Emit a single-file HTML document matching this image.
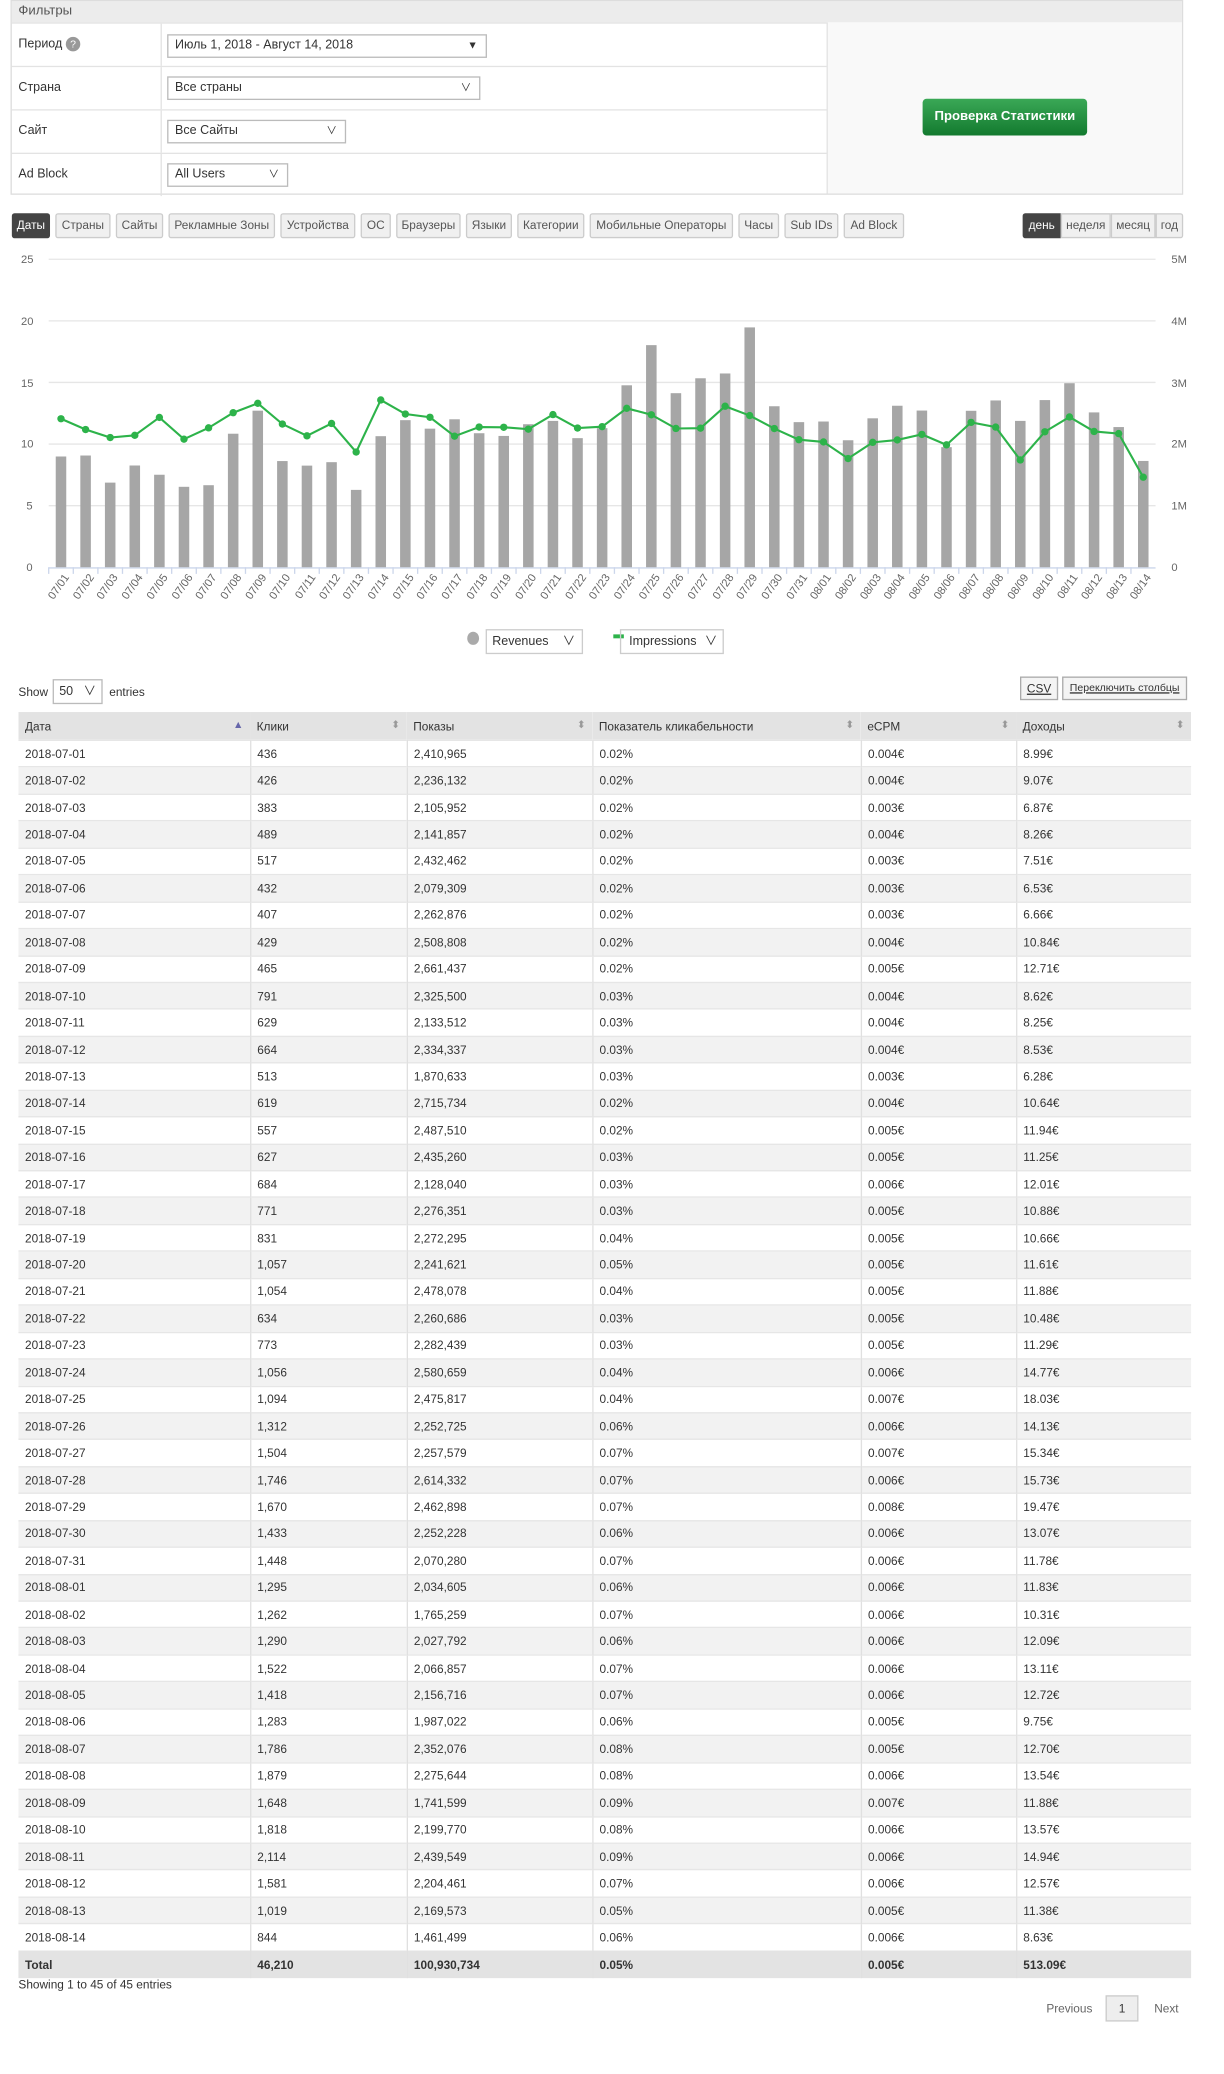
<!DOCTYPE html>
<html><head><meta charset="utf-8">
<style>
html,body{margin:0;padding:0;background:#fff;}
body{width:1224px;height:2074px;overflow:hidden;font-family:"Liberation Sans","Noto Sans CJK SC",sans-serif;color:#333;}
#w{position:relative;width:930px;height:1576px;transform:scale(1.31613);transform-origin:0 0;font-size:10px;}
.abs{position:absolute;}
#filters{left:8px;top:0;width:891px;height:148px;border:1px solid #ddd;box-sizing:border-box;background:#fff;}
#filters .hd{position:absolute;left:0;top:0;right:0;height:16px;background:#ececec;color:#555;font-size:10px;line-height:16px;padding-left:5px;}
.row{position:absolute;left:0;width:619px;height:33px;border-top:1px solid #e3e3e3;box-sizing:border-box;}
.row .lb{position:absolute;left:5px;top:0;line-height:31px;font-size:9.5px;}
.row .sep{position:absolute;left:113px;top:0;bottom:0;border-left:1px solid #e3e3e3;}
.sel{position:absolute;border:1px solid #bbb;background:#fff;height:18px;box-sizing:border-box;font-size:9.5px;line-height:16px;padding-left:5px;}
.sel i{position:absolute;right:6px;top:0;font-style:normal;font-size:8px;}
#rc{position:absolute;left:619px;top:16px;right:0;bottom:0;border-left:1px solid #e3e3e3;background:#f9f9f9;}
#btn{position:absolute;left:72px;top:58px;width:125px;height:28px;background:linear-gradient(#3aa856,#137a2f);border-radius:3px;color:#fff;font-weight:bold;font-size:10px;text-align:center;line-height:28px;}
.tab{position:absolute;top:162px;height:19px;border:1px solid #ccc;border-radius:2px;background:#f0f0f0;color:#555;font-size:9px;line-height:17px;text-align:center;box-sizing:border-box;}
.tab.on{background:#444;color:#fff;border-color:#444;}
.yl{position:absolute;font-size:8.5px;color:#666;}
#xl{position:absolute;left:37px;top:434px;width:841px;height:40px;display:flex;}
#xl div{flex:1;position:relative;}
#xl span{position:absolute;right:50%;top:0;transform-origin:100% 0;transform:rotate(-55deg);font-size:8.5px;color:#666;white-space:nowrap;}
table{position:absolute;left:14px;top:541px;width:891px;border-collapse:collapse;font-size:9px;}
th{background:#e3e3e3;text-align:left;font-weight:normal;height:21px;padding:0 5px;position:relative;}
th b{position:absolute;right:5px;top:5px;font-weight:normal;font-size:8px;color:#999;}
td{height:20.45px;padding:0 5px;border-left:1px solid #e0e0e0;box-sizing:border-box;}
td:first-child{border-left:none;}
tbody tr:nth-child(even){background:#f2f2f2;}
tbody tr{border-top:1px solid #e6e6e6;}
tfoot td{background:#e3e3e3;font-weight:bold;height:21px;}
</style></head><body><div id="w">

<div id="filters" class="abs">
 <div class="hd">Фильтры</div>
 <div class="row" style="top:16px"><div class="lb">Период <span style="display:inline-block;width:11px;height:11px;border-radius:50%;background:#999;color:#fff;font-size:8px;line-height:11px;text-align:center;">?</span></div><div class="sep"></div><div class="sel" style="left:118px;top:8px;width:243px;">Июль 1, 2018 - Август 14, 2018<i>▼</i></div></div>
 <div class="row" style="top:49px"><div class="lb">Страна</div><div class="sep"></div><div class="sel" style="left:118px;top:7px;width:238px;">Все страны<i>∨</i></div></div>
 <div class="row" style="top:82px"><div class="lb">Сайт</div><div class="sep"></div><div class="sel" style="left:118px;top:7px;width:136px;">Все Сайты<i>∨</i></div></div>
 <div class="row" style="top:115px"><div class="lb">Ad Block</div><div class="sep"></div><div class="sel" style="left:118px;top:7px;width:92px;">All Users<i>∨</i></div></div>
 <div id="rc"><div id="btn">Проверка Статистики</div></div>
</div>

<div class="tab on" style="left:9px;width:29px">Даты</div>
<div class="tab" style="left:42px;width:42px">Страны</div>
<div class="tab" style="left:88px;width:36px">Сайты</div>
<div class="tab" style="left:128px;width:81px">Рекламные Зоны</div>
<div class="tab" style="left:213px;width:57px">Устройства</div>
<div class="tab" style="left:274px;width:23px">ОС</div>
<div class="tab" style="left:301px;width:49px">Браузеры</div>
<div class="tab" style="left:354px;width:35px">Языки</div>
<div class="tab" style="left:393px;width:51px">Категории</div>
<div class="tab" style="left:448px;width:109px">Мобильные Операторы</div>
<div class="tab" style="left:561px;width:31px">Часы</div>
<div class="tab" style="left:596px;width:41px">Sub IDs</div>
<div class="tab" style="left:641px;width:46px">Ad Block</div>
<div class="tab on" style="left:777px;width:29px;border-radius:2px 0 0 2px">день</div>
<div class="tab" style="left:806px;width:38px;border-radius:0">неделя</div>
<div class="tab" style="left:844px;width:34px;border-radius:0">месяц</div>
<div class="tab" style="left:878px;width:21px;border-radius:0 2px 2px 0">год</div>

<div class="yl" style="left:16px;top:192px">25</div>
<div class="yl" style="left:16px;top:239px">20</div>
<div class="yl" style="left:16px;top:286px">15</div>
<div class="yl" style="left:16px;top:332px">10</div>
<div class="yl" style="left:20px;top:379px">5</div>
<div class="yl" style="left:20px;top:426px">0</div>
<div class="yl" style="left:890px;top:192px">5M</div>
<div class="yl" style="left:890px;top:239px">4M</div>
<div class="yl" style="left:890px;top:286px">3M</div>
<div class="yl" style="left:890px;top:332px">2M</div>
<div class="yl" style="left:890px;top:379px">1M</div>
<div class="yl" style="left:890px;top:426px">0</div>

<svg id="ch" class="abs" style="left:0;top:0" width="930" height="480"></svg>

<div id="xl">
<div><span>07/01</span></div><div><span>07/02</span></div><div><span>07/03</span></div><div><span>07/04</span></div><div><span>07/05</span></div><div><span>07/06</span></div><div><span>07/07</span></div><div><span>07/08</span></div><div><span>07/09</span></div><div><span>07/10</span></div><div><span>07/11</span></div><div><span>07/12</span></div><div><span>07/13</span></div><div><span>07/14</span></div><div><span>07/15</span></div><div><span>07/16</span></div><div><span>07/17</span></div><div><span>07/18</span></div><div><span>07/19</span></div><div><span>07/20</span></div><div><span>07/21</span></div><div><span>07/22</span></div><div><span>07/23</span></div><div><span>07/24</span></div><div><span>07/25</span></div><div><span>07/26</span></div><div><span>07/27</span></div><div><span>07/28</span></div><div><span>07/29</span></div><div><span>07/30</span></div><div><span>07/31</span></div><div><span>08/01</span></div><div><span>08/02</span></div><div><span>08/03</span></div><div><span>08/04</span></div><div><span>08/05</span></div><div><span>08/06</span></div><div><span>08/07</span></div><div><span>08/08</span></div><div><span>08/09</span></div><div><span>08/10</span></div><div><span>08/11</span></div><div><span>08/12</span></div><div><span>08/13</span></div><div><span>08/14</span></div>
</div>

<div class="abs" style="left:355px;top:480px;width:9px;height:10px;border-radius:50%;background:#aaa"></div>
<div class="abs" style="left:369px;top:478px;width:74px;height:19px;border:1px solid #ccc;box-sizing:border-box;font-size:9.5px;line-height:17px;padding-left:4px">Revenues<span style="position:absolute;right:5px">∨</span></div>
<div class="abs" style="left:466px;top:482px;width:8px;height:3px;background:#2db34a"></div>
<div class="abs" style="left:471px;top:478px;width:79px;height:19px;border:1px solid #ccc;box-sizing:border-box;font-size:9.5px;line-height:17px;padding-left:6px">Impressions<span style="position:absolute;right:4px">∨</span></div>

<div class="abs" style="left:14px;top:521px;font-size:9px">Show</div>
<div class="abs" style="left:40px;top:516px;width:38px;height:19px;border:1px solid #bbb;box-sizing:border-box;font-size:9.5px;line-height:17px;padding-left:4px">50<span style="position:absolute;right:4px">∨</span></div>
<div class="abs" style="left:83px;top:521px;font-size:9px">entries</div>
<div class="abs" style="left:775px;top:514px;width:29px;height:18px;border:1px solid #aaa;background:#f4f4f4;box-sizing:border-box;font-size:9px;line-height:16px;text-align:center;text-decoration:underline">CSV</div>
<div class="abs" style="left:807px;top:514px;width:95px;height:18px;border:1px solid #aaa;background:#f4f4f4;box-sizing:border-box;font-size:8px;line-height:16px;text-align:center;text-decoration:underline">Переключить столбцы</div>

<table>
<colgroup><col style="width:176px"><col style="width:119px"><col style="width:141px"><col style="width:204px"><col style="width:118px"><col style="width:133px"></colgroup>
<thead><tr><th>Дата<b style="color:#66a">▲</b></th><th>Клики<b>⬍</b></th><th>Показы<b>⬍</b></th><th>Показатель кликабельности<b>⬍</b></th><th>eCPM<b>⬍</b></th><th>Доходы<b>⬍</b></th></tr></thead>
<tbody>
<tr><td>2018-07-01</td><td>436</td><td>2,410,965</td><td>0.02%</td><td>0.004€</td><td>8.99€</td></tr>
<tr><td>2018-07-02</td><td>426</td><td>2,236,132</td><td>0.02%</td><td>0.004€</td><td>9.07€</td></tr>
<tr><td>2018-07-03</td><td>383</td><td>2,105,952</td><td>0.02%</td><td>0.003€</td><td>6.87€</td></tr>
<tr><td>2018-07-04</td><td>489</td><td>2,141,857</td><td>0.02%</td><td>0.004€</td><td>8.26€</td></tr>
<tr><td>2018-07-05</td><td>517</td><td>2,432,462</td><td>0.02%</td><td>0.003€</td><td>7.51€</td></tr>
<tr><td>2018-07-06</td><td>432</td><td>2,079,309</td><td>0.02%</td><td>0.003€</td><td>6.53€</td></tr>
<tr><td>2018-07-07</td><td>407</td><td>2,262,876</td><td>0.02%</td><td>0.003€</td><td>6.66€</td></tr>
<tr><td>2018-07-08</td><td>429</td><td>2,508,808</td><td>0.02%</td><td>0.004€</td><td>10.84€</td></tr>
<tr><td>2018-07-09</td><td>465</td><td>2,661,437</td><td>0.02%</td><td>0.005€</td><td>12.71€</td></tr>
<tr><td>2018-07-10</td><td>791</td><td>2,325,500</td><td>0.03%</td><td>0.004€</td><td>8.62€</td></tr>
<tr><td>2018-07-11</td><td>629</td><td>2,133,512</td><td>0.03%</td><td>0.004€</td><td>8.25€</td></tr>
<tr><td>2018-07-12</td><td>664</td><td>2,334,337</td><td>0.03%</td><td>0.004€</td><td>8.53€</td></tr>
<tr><td>2018-07-13</td><td>513</td><td>1,870,633</td><td>0.03%</td><td>0.003€</td><td>6.28€</td></tr>
<tr><td>2018-07-14</td><td>619</td><td>2,715,734</td><td>0.02%</td><td>0.004€</td><td>10.64€</td></tr>
<tr><td>2018-07-15</td><td>557</td><td>2,487,510</td><td>0.02%</td><td>0.005€</td><td>11.94€</td></tr>
<tr><td>2018-07-16</td><td>627</td><td>2,435,260</td><td>0.03%</td><td>0.005€</td><td>11.25€</td></tr>
<tr><td>2018-07-17</td><td>684</td><td>2,128,040</td><td>0.03%</td><td>0.006€</td><td>12.01€</td></tr>
<tr><td>2018-07-18</td><td>771</td><td>2,276,351</td><td>0.03%</td><td>0.005€</td><td>10.88€</td></tr>
<tr><td>2018-07-19</td><td>831</td><td>2,272,295</td><td>0.04%</td><td>0.005€</td><td>10.66€</td></tr>
<tr><td>2018-07-20</td><td>1,057</td><td>2,241,621</td><td>0.05%</td><td>0.005€</td><td>11.61€</td></tr>
<tr><td>2018-07-21</td><td>1,054</td><td>2,478,078</td><td>0.04%</td><td>0.005€</td><td>11.88€</td></tr>
<tr><td>2018-07-22</td><td>634</td><td>2,260,686</td><td>0.03%</td><td>0.005€</td><td>10.48€</td></tr>
<tr><td>2018-07-23</td><td>773</td><td>2,282,439</td><td>0.03%</td><td>0.005€</td><td>11.29€</td></tr>
<tr><td>2018-07-24</td><td>1,056</td><td>2,580,659</td><td>0.04%</td><td>0.006€</td><td>14.77€</td></tr>
<tr><td>2018-07-25</td><td>1,094</td><td>2,475,817</td><td>0.04%</td><td>0.007€</td><td>18.03€</td></tr>
<tr><td>2018-07-26</td><td>1,312</td><td>2,252,725</td><td>0.06%</td><td>0.006€</td><td>14.13€</td></tr>
<tr><td>2018-07-27</td><td>1,504</td><td>2,257,579</td><td>0.07%</td><td>0.007€</td><td>15.34€</td></tr>
<tr><td>2018-07-28</td><td>1,746</td><td>2,614,332</td><td>0.07%</td><td>0.006€</td><td>15.73€</td></tr>
<tr><td>2018-07-29</td><td>1,670</td><td>2,462,898</td><td>0.07%</td><td>0.008€</td><td>19.47€</td></tr>
<tr><td>2018-07-30</td><td>1,433</td><td>2,252,228</td><td>0.06%</td><td>0.006€</td><td>13.07€</td></tr>
<tr><td>2018-07-31</td><td>1,448</td><td>2,070,280</td><td>0.07%</td><td>0.006€</td><td>11.78€</td></tr>
<tr><td>2018-08-01</td><td>1,295</td><td>2,034,605</td><td>0.06%</td><td>0.006€</td><td>11.83€</td></tr>
<tr><td>2018-08-02</td><td>1,262</td><td>1,765,259</td><td>0.07%</td><td>0.006€</td><td>10.31€</td></tr>
<tr><td>2018-08-03</td><td>1,290</td><td>2,027,792</td><td>0.06%</td><td>0.006€</td><td>12.09€</td></tr>
<tr><td>2018-08-04</td><td>1,522</td><td>2,066,857</td><td>0.07%</td><td>0.006€</td><td>13.11€</td></tr>
<tr><td>2018-08-05</td><td>1,418</td><td>2,156,716</td><td>0.07%</td><td>0.006€</td><td>12.72€</td></tr>
<tr><td>2018-08-06</td><td>1,283</td><td>1,987,022</td><td>0.06%</td><td>0.005€</td><td>9.75€</td></tr>
<tr><td>2018-08-07</td><td>1,786</td><td>2,352,076</td><td>0.08%</td><td>0.005€</td><td>12.70€</td></tr>
<tr><td>2018-08-08</td><td>1,879</td><td>2,275,644</td><td>0.08%</td><td>0.006€</td><td>13.54€</td></tr>
<tr><td>2018-08-09</td><td>1,648</td><td>1,741,599</td><td>0.09%</td><td>0.007€</td><td>11.88€</td></tr>
<tr><td>2018-08-10</td><td>1,818</td><td>2,199,770</td><td>0.08%</td><td>0.006€</td><td>13.57€</td></tr>
<tr><td>2018-08-11</td><td>2,114</td><td>2,439,549</td><td>0.09%</td><td>0.006€</td><td>14.94€</td></tr>
<tr><td>2018-08-12</td><td>1,581</td><td>2,204,461</td><td>0.07%</td><td>0.006€</td><td>12.57€</td></tr>
<tr><td>2018-08-13</td><td>1,019</td><td>2,169,573</td><td>0.05%</td><td>0.005€</td><td>11.38€</td></tr>
<tr><td>2018-08-14</td><td>844</td><td>1,461,499</td><td>0.06%</td><td>0.006€</td><td>8.63€</td></tr>
</tbody>
<tfoot><tr><td>Total</td><td>46,210</td><td>100,930,734</td><td>0.05%</td><td>0.005€</td><td>513.09€</td></tr></tfoot>
</table>

<div class="abs" style="left:14px;top:1503px;font-size:9px">Showing 1 to 45 of 45 entries</div>
<div class="abs" style="left:795px;top:1521px;font-size:9px;color:#666">Previous</div>
<div class="abs" style="left:840px;top:1516px;width:25px;height:20px;border:1px solid #ccc;background:#eee;box-sizing:border-box;font-size:9px;line-height:18px;text-align:center">1</div>
<div class="abs" style="left:877px;top:1521px;font-size:9px;color:#666">Next</div>

<script>
var rev=[8.99,9.07,6.87,8.26,7.51,6.53,6.66,10.84,12.71,8.62,8.25,8.53,6.28,10.64,11.94,11.25,12.01,10.88,10.66,11.61,11.88,10.48,11.29,14.77,18.03,14.13,15.34,15.73,19.47,13.07,11.78,11.83,10.31,12.09,13.11,12.72,9.75,12.70,13.54,11.88,13.57,14.94,12.57,11.38,8.63];
var imp=[2410965,2236132,2105952,2141857,2432462,2079309,2262876,2508808,2661437,2325500,2133512,2334337,1870633,2715734,2487510,2435260,2128040,2276351,2272295,2241621,2478078,2260686,2282439,2580659,2475817,2252725,2257579,2614332,2462898,2252228,2070280,2034605,1765259,2027792,2066857,2156716,1987022,2352076,2275644,1741599,2199770,2439549,2204461,2169573,1461499];
var s='',x0=37,x1=878,y0=431,ppu=(431-197)/25,slot=(x1-x0)/45;
for(var g=1;g<=5;g++){var y=y0-g*5*ppu;s+='<line x1="37" x2="878" y1="'+y+'" y2="'+y+'" stroke="#e6e6e6" stroke-width="1"/>';}
s+='<line x1="37" x2="878" y1="431.5" y2="431.5" stroke="#ccd6eb"/>';
var pts=[];
for(var i=0;i<45;i++){var c=x0+slot*(i+.5),h=rev[i]*ppu;
s+='<rect x="'+(c-4)+'" y="'+(y0-h)+'" width="8" height="'+h+'" fill="#a6a6a6"/>';
s+='<line x1="'+(x0+slot*i)+'" x2="'+(x0+slot*i)+'" y1="431" y2="436" stroke="#ccd6eb"/>';
pts.push(c+','+(y0-imp[i]/5e6*234));}
s+='<polyline points="'+pts.join(' ')+'" fill="none" stroke="#2db34a" stroke-width="1.6"/>';
pts.forEach(function(p){var a=p.split(',');s+='<circle cx="'+a[0]+'" cy="'+a[1]+'" r="2.8" fill="#2db34a"/>';});
document.getElementById('ch').innerHTML=s;
</script>
</div></body></html>
